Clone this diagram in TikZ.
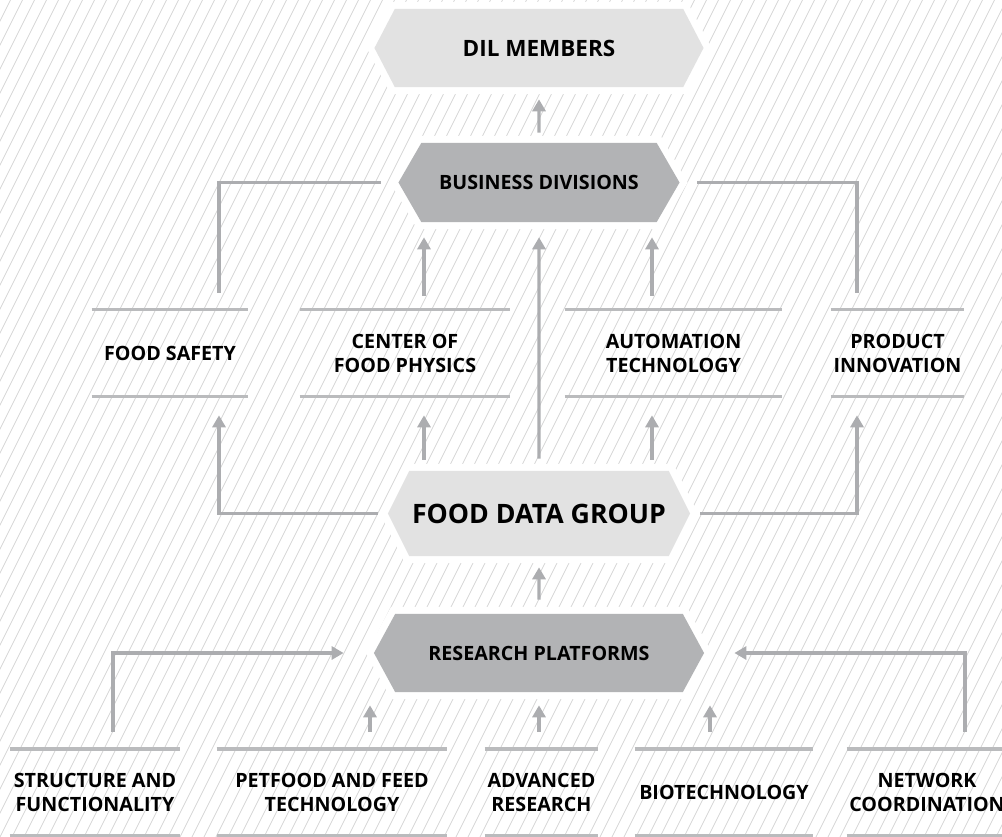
\documentclass[tikz,border=0pt]{standalone}
\usepackage{fontspec}
\setmainfont{Open Sans}
\usetikzlibrary{arrows.meta,shapes.symbols,positioning}

\newlength{\pxu}
\setlength{\pxu}{0.025cm}

\definecolor{hatchgray}{RGB}{214,214,214}
\definecolor{linegray}{RGB}{172,173,176}
\definecolor{bargray}{RGB}{186,187,189}
\definecolor{palehex}{RGB}{226,226,226}
\definecolor{darkhex}{RGB}{178,179,181}

\tikzset{
  hexbox/.style={signal, signal to=east and west, inner sep=0pt,
    align=center, font=\bfseries\fontsize{14}{17}\selectfont,
    preaction={draw=white, line width=0.35cm}},
  column/.style={inner sep=0pt, minimum height=2.15cm, align=center,
    font=\bfseries\fontsize{14}{17}\selectfont},
  link/.style={draw=linegray, line width=0.083cm},
  arr/.style={link, -{Triangle[width=0.325cm,length=0.3cm]}},
  bar/.style={draw=bargray, line width=0.088cm}
}

\begin{document}
\begin{tikzpicture}[x=0.025cm, y=-0.025cm]
\useasboundingbox (0,0) rectangle (1002,837);
\clip (0,0) rectangle (1002,837);

% background hatching
\foreach \x in {-420,-408,...,1010}
  \draw[hatchgray, line width=0.02cm] (\x,837) -- ++(418.5,-837);

% hexagons
\node[hexbox, fill=palehex, minimum width=8.225cm, minimum height=1.95cm,
  signal pointer angle=125, font=\bfseries\fontsize{16}{19}\selectfont] (dil) at (539,48) {DIL MEMBERS};
\node[hexbox, fill=darkhex, minimum width=7.025cm, minimum height=1.975cm,
  signal pointer angle=120] (bd) at (539,182.5) {BUSINESS DIVISIONS};
\node[hexbox, fill=palehex, minimum width=7.55cm, minimum height=2.125cm,
  signal pointer angle=127, font=\bfseries\fontsize{19}{22}\selectfont] (fdg) at (539,513.5) {FOOD DATA GROUP};
\node[hexbox, fill=darkhex, minimum width=8.25cm, minimum height=1.95cm,
  signal pointer angle=123] (rp) at (539,653) {RESEARCH PLATFORMS};

% middle row
\node[column, minimum width=3.9cm] (safety) at (170,353) {FOOD SAFETY};
\node[column, minimum width=5.25cm] (physics) at (405,353) {CENTER OF\\FOOD PHYSICS};
\node[column, minimum width=5.425cm] (automation) at (673.5,353) {AUTOMATION\\TECHNOLOGY};
\node[column, minimum width=3.325cm] (product) at (897.5,353) {PRODUCT\\INNOVATION};

% bottom row
\node[column, minimum width=4.25cm] (structure) at (95,792.5) {STRUCTURE AND\\FUNCTIONALITY};
\node[column, minimum width=5.75cm] (petfood) at (332,792.5) {PETFOOD AND FEED\\TECHNOLOGY};
\node[column, minimum width=2.825cm] (advanced) at (541.5,792.5) {ADVANCED\\RESEARCH};
\node[column, minimum width=4.45cm] (biotech) at (724,792.5) {BIOTECHNOLOGY};
\node[column, minimum width=4cm] (network) at (927,792.5) {NETWORK\\COORDINATION};

\foreach \n in {safety,physics,automation,product,structure,petfood,advanced,biotech,network}
  \draw[bar] (\n.north west) -- (\n.north east) (\n.south west) -- (\n.south east);

% columns of the connectors
\coordinate (outerleft) at (219,0);
\coordinate (outerright) at (857,0);
\coordinate (leftcol) at (424,0);
\coordinate (rightcol) at (652,0);
\coordinate (farleft) at (113,0);
\coordinate (farright) at (965,0);
\coordinate (petcol) at (370,0);
\coordinate (biocol) at (710,0);

% upper half
\draw[arr, shorten <=0.25cm, shorten >=0.3cm] (bd) -- (dil);
\draw[link, shorten <=0.425cm, shorten >=0.425cm] (safety.north -| outerleft) |- (bd.west);
\draw[link, shorten <=0.425cm, shorten >=0.425cm] (product.north -| outerright) |- (bd.east);
\draw[arr, shorten <=0.35cm, shorten >=0.375cm] (physics.north -| leftcol) -- (bd.south -| leftcol);
\draw[arr, shorten <=0.35cm, shorten >=0.375cm] (automation.north -| rightcol) -- (bd.south -| rightcol);
\draw[arr, shorten <=0.3cm, shorten >=0.375cm] (fdg) -- (bd);
\draw[arr, shorten <=0.25cm, shorten >=0.475cm] (fdg.west) -| (safety.south -| outerleft);
\draw[arr, shorten <=0.25cm, shorten >=0.475cm] (fdg.east) -| (product.south -| outerright);
\draw[arr, shorten <=0.275cm, shorten >=0.475cm] (fdg.north -| leftcol) -- (physics.south -| leftcol);
\draw[arr, shorten <=0.275cm, shorten >=0.475cm] (fdg.north -| rightcol) -- (automation.south -| rightcol);

% lower half
\draw[arr, shorten <=0.35cm, shorten >=0.275cm] (rp) -- (fdg);
\draw[arr, shorten <=0.425cm, shorten >=0.75cm] (structure.north -| farleft) |- (rp.west);
\draw[arr, shorten <=0.425cm, shorten >=0.75cm] (network.north -| farright) |- (rp.east);
\draw[arr, shorten <=0.425cm, shorten >=0.325cm] (petfood.north -| petcol) -- (rp.south -| petcol);
\draw[arr, shorten <=0.425cm, shorten >=0.325cm] (advanced.north -| rp.south) -- (rp.south);
\draw[arr, shorten <=0.425cm, shorten >=0.325cm] (biotech.north -| biocol) -- (rp.south -| biocol);
\end{tikzpicture}
\end{document}
